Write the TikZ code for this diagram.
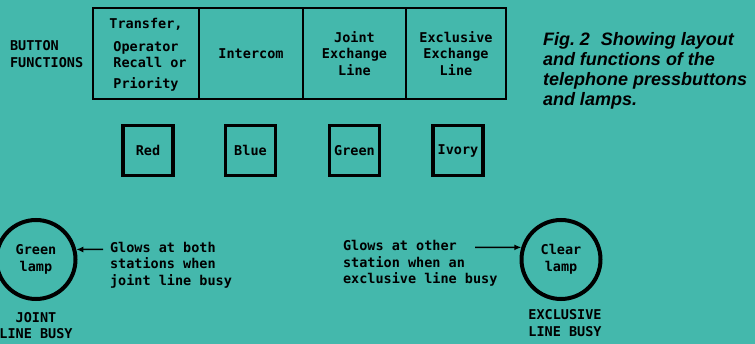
\documentclass[tikz,border=0pt]{standalone}
\usepackage{fontspec}
\newfontfamily\keyfont{DejaVu Sans Mono}
\newfontfamily\capfont{Liberation Sans}
\usetikzlibrary{arrows.meta}
\definecolor{panel}{RGB}{68,184,172}

\begin{document}
\begin{tikzpicture}[x=1pt,y=-1pt,
  every node/.style={inner sep=0pt, outer sep=0pt},
  keytext/.style={font=\keyfont\bfseries\fontsize{13.5}{16.5}\selectfont, align=center},
  keybox/.style={draw, line width=2pt, minimum height=91pt, keytext},
  lampkey/.style={draw, line width=3.5pt, minimum width=50pt, minimum height=50pt, keytext},
  lamp/.style={draw, circle, line width=4pt, minimum size=79pt, outer sep=2pt, keytext},
  pointer/.style={line width=1.5pt, -{Latex[length=7pt,width=6pt]}},
]
% panel background
\fill[panel] (0,0) rectangle (755,344);
\useasboundingbox (0,0) rectangle (755,344);

% row of pressbuttons
\node[keytext, align=left, anchor=west] (title) at (10,54) {BUTTON\\FUNCTIONS};
\node[keybox, minimum width=106pt] (b1) at (146,53.5)
  {\rule{0pt}{13pt}Transfer,\\[6pt]Operator\\\hspace*{8pt}Recall or\\[4pt]Priority};
\node[keybox, minimum width=104pt] (b2) at (251,53.5) {Intercom};
\node[keybox, minimum width=103pt] (b3) at (354.5,53.5) {Joint\\Exchange\\Line};
\node[keybox, minimum width=100pt] (b4) at (456,53.5) {Exclusive\\Exchange\\Line};

% lamp colours under each button
\node[lampkey] (red) at (148,150.5) {Red};
\node[lampkey] (blue) at (250.5,150.5) {Blue};
\node[lampkey] (green) at (354.5,150.5) {Green};
\node[lampkey] (ivory) at (458,150.5) {Ivory};

% caption
\node[font=\capfont\bfseries\itshape\fontsize{18}{20}\selectfont, align=left,
      anchor=north west] (caption) at (543,32.5)
  {Fig.~2\hspace{0.6em}Showing layout\\and functions of the\\telephone pressbuttons\\and lamps.};

% busy lamps
\node[lamp] (glamp) at (36,259.5) {Green\\lamp};
\node[keytext] (gname) at (36,325.5) {JOINT\\LINE BUSY};
\node[keytext, align=left, anchor=west] (gnote) at (110,265) {Glows at both\\stations when\\joint line busy};
\coordinate (gtail) at (103,249.5);
\draw[pointer] (gtail) -- (glamp.14);

\node[lamp] (clamp) at (561,259.5) {Clear\\lamp};
\node[keytext] (cname) at (565,323) {EXCLUSIVE\\LINE BUSY};
\node[keytext, align=left, anchor=west] (cnote) at (343,263.5) {Glows at other\\station when an\\exclusive line busy};
\coordinate (ctail) at (475,247.5);
\draw[pointer] (ctail) -- (clamp.163);
\end{tikzpicture}
\end{document}
